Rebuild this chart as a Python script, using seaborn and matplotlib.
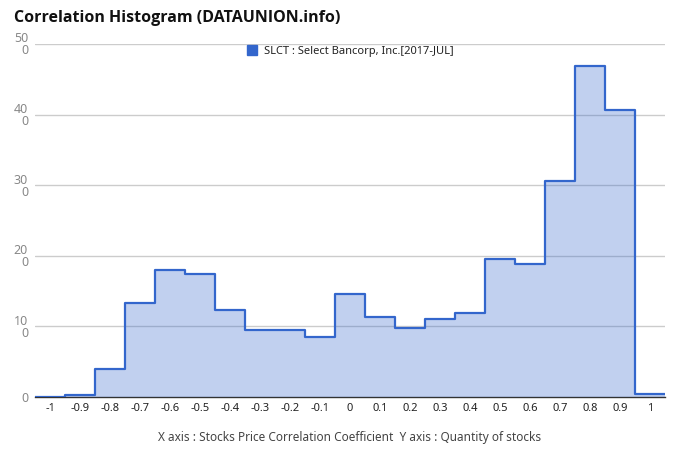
import numpy as np
import pandas as pd
import matplotlib
matplotlib.use("Agg")
import matplotlib.pyplot as plt
from matplotlib.patches import Patch
import seaborn as sns

# Data
centers = [-1.0, -0.9, -0.8, -0.7, -0.6, -0.5, -0.4, -0.3, -0.2, -0.1, 0.0,
           0.1, 0.2, 0.3, 0.4, 0.5, 0.6, 0.7, 0.8, 0.9, 1.0]
counts = [0.0, 0.3, 4.0, 13.3, 18.0, 17.4, 12.3, 9.45, 9.5, 8.55, 14.6,
          11.3, 9.8, 11.1, 11.9, 19.6, 18.8, 30.6, 46.9, 40.65, 0.45]
xtick_labels = ["-1", "-0.9", "-0.8", "-0.7", "-0.6", "-0.5", "-0.4", "-0.3", "-0.2",
                "-0.1", "0", "0.1", "0.2", "0.3", "0.4", "0.5", "0.6", "0.7", "0.8",
                "0.9", "1"]
yticks = [0, 10, 20, 30, 40, 50]
ytick_labels = ["0", "10\n0", "20\n0", "30\n0", "40\n0", "50\n0"]
series_name = "SLCT : Select Bancorp, Inc.[2017-JUL]"
title = "Correlation Histogram (DATAUNION.info)"
xlabel = "X axis : Stocks Price Correlation Coefficient  Y axis : Quantity of stocks"

df = pd.DataFrame({"x": centers, "w": counts})

sns.set_style("white")
plt.rcParams["font.family"] = ["Noto Sans", "DejaVu Sans"]

fig = plt.figure(figsize=(6.8, 4.62), dpi=100)
ax = fig.add_axes([35 / 680, 65 / 462, 630 / 680, 353 / 462])

color = "#3366cc"
common = dict(data=df, x="x", weights="w", bins=len(centers), binrange=(-1.05, 1.05),
              element="step", ax=ax, legend=False)
sns.histplot(fill=True, color=color, alpha=0.3, linewidth=0, **common)
for coll in ax.collections:
    coll.set_edgecolor("none")
sns.histplot(fill=False, color=color, linewidth=1.6, **common)
for ln in ax.lines:
    ln.set_color(color)
    ln.set_linewidth(1.6)
    ln.set_solid_joinstyle("round")

ax.set_xlim(-1.05, 1.05)
ax.set_ylim(0, 50)
ax.set_xticks(centers)
ax.set_xticklabels(xtick_labels, fontsize=8, color="#222222")
ax.set_yticks(yticks)
ax.set_yticklabels(ytick_labels, fontsize=9, color="#888888", linespacing=0.9)
ax.tick_params(axis="both", length=0)
ax.tick_params(axis="x", pad=4)
ax.tick_params(axis="y", pad=5)
ax.set_xlabel("")
ax.set_ylabel("")
ax.grid(axis="y", color="#cccccc", linewidth=1)
ax.set_axisbelow(True)
for s in ["top", "right", "left"]:
    ax.spines[s].set_visible(False)
ax.spines["bottom"].set_color("#333333")
ax.spines["bottom"].set_linewidth(1)
ax.spines["bottom"].set_zorder(0.5)

fig.text(14 / 680, 1 - 18 / 462, title, fontsize=11.5, fontweight="bold",
         family=["Open Sans", "DejaVu Sans"], color="#111111", va="center", ha="left")
fig.text(350 / 680, 1 - 438 / 462, xlabel, fontsize=8.5, color="#444444",
         va="center", ha="center")

handle = Patch(facecolor=color, edgecolor=color)
fig.legend([handle], [series_name], loc="center", bbox_to_anchor=(350 / 680, 1 - 51 / 462),
           frameon=False, fontsize=8, handlelength=0.9, handleheight=0.9,
           handletextpad=0.6, labelcolor="#222222")

fig.savefig("out.png", dpi=100)
